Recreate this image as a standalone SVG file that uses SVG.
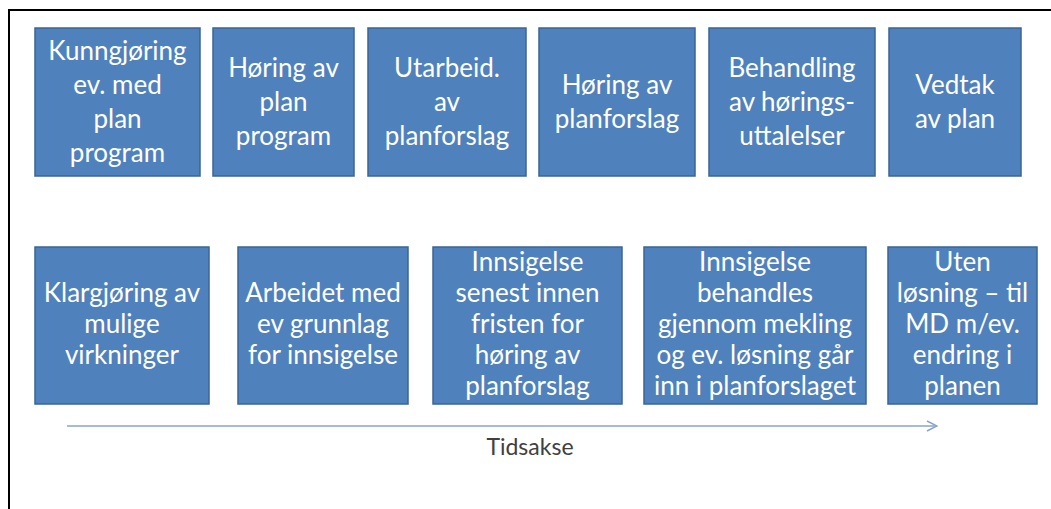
<svg xmlns="http://www.w3.org/2000/svg" width="1051" height="509" viewBox="0 0 1051 509">
<defs>
<style>
.box{fill:#4F81BD;stroke:#3B6497;stroke-width:1.5}
.shadow{fill:#9FB0C8;opacity:0.5}
.t{font-family:Lato,"Liberation Sans",sans-serif;font-size:26px;fill:#FFFFFF;text-anchor:middle}
.axis{fill:none;stroke:#8AA4CC;stroke-width:1.5}
.lbl{font-family:Lato,"Liberation Sans",sans-serif;font-size:23px;fill:#404040;text-anchor:middle}
</style>
<marker id="open" viewBox="0 0 12 12" refX="11" refY="6" markerWidth="12" markerHeight="12" markerUnits="userSpaceOnUse" orient="auto">
<path d="M1,1 L11,6 L1,11" fill="none" stroke="#8AA4CC" stroke-width="1.5"/>
</marker>
</defs>
<rect width="1051" height="509" fill="#FFFFFF"/>
<path d="M9,509 V10 H1051" fill="none" stroke="#000000" stroke-width="2"/>

<g id="n1"><rect class="box" x="35" y="28" width="165" height="148"/>
<text class="t" x="117.5"><tspan x="117.5" y="60">Kunngjøring</tspan><tspan x="117.5" y="94">ev. med</tspan><tspan x="117.5" y="128">plan</tspan><tspan x="117.5" y="162">program</tspan></text></g>
<g id="n2"><rect class="box" x="213" y="28" width="141" height="148"/>
<text class="t"><tspan x="283.5" y="77">Høring av</tspan><tspan x="283.5" y="111">plan</tspan><tspan x="283.5" y="145">program</tspan></text></g>
<g id="n3"><rect class="box" x="368" y="28" width="158" height="148"/>
<text class="t"><tspan x="447" y="77">Utarbeid.</tspan><tspan x="447" y="111">av</tspan><tspan x="447" y="145">planforslag</tspan></text></g>
<g id="n4"><rect class="box" x="539" y="28" width="156" height="148"/>
<text class="t"><tspan x="617" y="94">Høring av</tspan><tspan x="617" y="128">planforslag</tspan></text></g>
<g id="n5"><rect class="box" x="709" y="28" width="166" height="148"/>
<text class="t"><tspan x="792" y="77">Behandling</tspan><tspan x="792" y="111">av hørings-</tspan><tspan x="792" y="145">uttalelser</tspan></text></g>
<g id="n6"><rect class="box" x="889" y="28" width="132" height="148"/>
<text class="t"><tspan x="955" y="94">Vedtak</tspan><tspan x="955" y="128">av plan</tspan></text></g>

<g id="m1"><rect class="box" x="35" y="247" width="174" height="157"/>
<text class="t"><tspan x="122" y="302">Klargjøring av</tspan><tspan x="122" y="333">mulige</tspan><tspan x="122" y="364">virkninger</tspan></text></g>
<g id="m2"><rect class="box" x="238" y="247" width="170" height="157"/>
<text class="t"><tspan x="323" y="302">Arbeidet med</tspan><tspan x="323" y="333">ev grunnlag</tspan><tspan x="323" y="364">for innsigelse</tspan></text></g>
<g id="m3"><rect class="box" x="433" y="247" width="189" height="157"/>
<text class="t"><tspan x="527.5" y="271">Innsigelse</tspan><tspan x="527.5" y="302">senest innen</tspan><tspan x="527.5" y="333">fristen for</tspan><tspan x="527.5" y="364">høring av</tspan><tspan x="527.5" y="395">planforslag</tspan></text></g>
<g id="m4"><rect class="box" x="644" y="247" width="222" height="157"/>
<text class="t"><tspan x="755" y="271">Innsigelse</tspan><tspan x="755" y="302">behandles</tspan><tspan x="755" y="333">gjennom mekling</tspan><tspan x="755" y="364">og ev. løsning går</tspan><tspan x="755" y="395">inn i planforslaget</tspan></text></g>
<g id="m5"><rect class="box" x="888" y="247" width="149" height="157"/>
<text class="t"><tspan x="962.5" y="271">Uten</tspan><tspan x="962.5" y="302">løsning – til</tspan><tspan x="962.5" y="333">MD m/ev.</tspan><tspan x="962.5" y="364">endring i</tspan><tspan x="962.5" y="395">planen</tspan></text></g>

<g id="connectors">
<line class="axis" x1="67" y1="426" x2="937" y2="426" marker-end="url(#open)"/>
</g>
<g id="axis-label"><text class="lbl" x="530" y="455">Tidsakse</text></g>
</svg>
